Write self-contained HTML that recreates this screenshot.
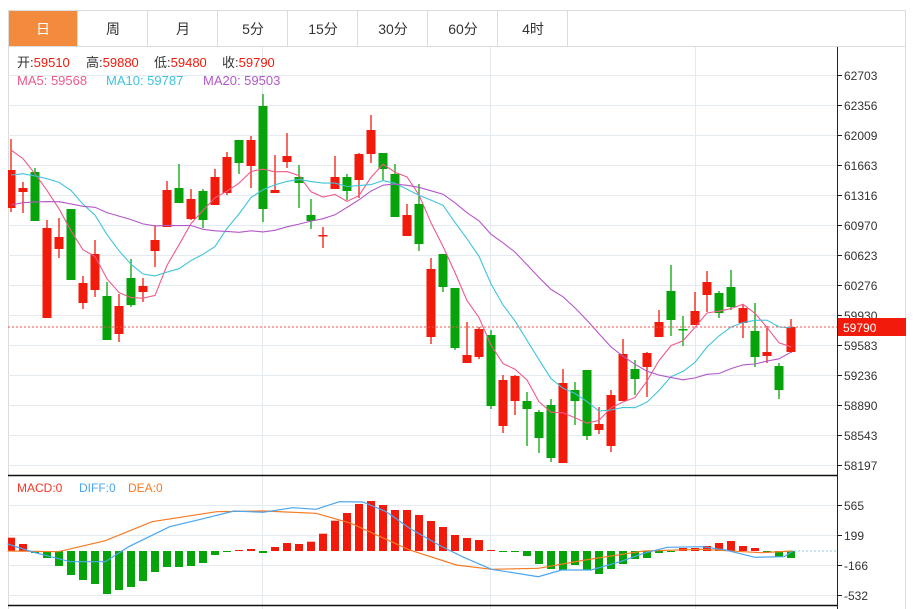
<!DOCTYPE html>
<html><head><meta charset="utf-8">
<style>
body{margin:0;background:#fff;font-family:"Liberation Sans","Noto Sans CJK SC",sans-serif;}
svg{display:block}
</style></head><body>
<svg id="s" width="913" height="609" xmlns="http://www.w3.org/2000/svg" font-family="Liberation Sans, Noto Sans CJK SC, sans-serif">
<rect x="0" y="0" width="913" height="609" fill="#fff"/>
<rect x="8.5" y="10.5" width="897" height="600" fill="none" stroke="#dcdcdc"/>
<line x1="8" y1="46.5" x2="906" y2="46.5" stroke="#dcdcdc"/>
<rect x="9" y="11" width="68" height="35" fill="#f38b3f"/>
<g font-size="14" text-anchor="middle" fill="#333">
<text x="43" y="34" fill="#fff">日</text>
<text x="113" y="34">周</text><text x="183" y="34">月</text><text x="253" y="34">5分</text>
<text x="323" y="34">15分</text><text x="393" y="34">30分</text><text x="463" y="34">60分</text><text x="533" y="34">4时</text>
</g>
<g stroke="#dcdcdc"><line x1="77.5" y1="11" x2="77.5" y2="46"/><line x1="147.5" y1="11" x2="147.5" y2="46"/><line x1="217.5" y1="11" x2="217.5" y2="46"/><line x1="287.5" y1="11" x2="287.5" y2="46"/><line x1="357.5" y1="11" x2="357.5" y2="46"/><line x1="427.5" y1="11" x2="427.5" y2="46"/><line x1="497.5" y1="11" x2="497.5" y2="46"/><line x1="567.5" y1="11" x2="567.5" y2="46"/></g>
<g id="grid" stroke="#e3eaf0"></g>
<line x1="8" y1="75.5" x2="837" y2="75.5" stroke="#e3eaf0"/>
<line x1="8" y1="475.5" x2="837" y2="475.5" stroke="#111" stroke-width="1.5"/>
<line x1="8" y1="605.5" x2="837" y2="605.5" stroke="#111" stroke-width="1.5"/>
<line x1="837.5" y1="47" x2="837.5" y2="609" stroke="#222"/>
<g id="c"></g>
<line x1="8" y1="327" x2="837" y2="327" stroke="#f0504a" stroke-dasharray="2,2"/>
<rect x="838" y="318" width="68" height="18" fill="#f21a0a"/>
<text x="843" y="332" font-size="12" fill="#fff">59790</text>
<g font-size="13">
<text x="17" y="67" fill="#333">开:<tspan fill="#f21a0a">59510</tspan></text>
<text x="86" y="67" fill="#333">高:<tspan fill="#f21a0a">59880</tspan></text>
<text x="154" y="67" fill="#333">低:<tspan fill="#f21a0a">59480</tspan></text>
<text x="222" y="67" fill="#333">收:<tspan fill="#f21a0a">59790</tspan></text>
<text x="17" y="85" fill="#ef5a8c">MA5: 59568</text>
<text x="106" y="85" fill="#3fc3dc">MA10: 59787</text>
<text x="203" y="85" fill="#b458c8">MA20: 59503</text>
</g>
<g font-size="12">
<text x="17" y="492" fill="#f5352a">MACD:0</text>
<text x="79" y="492" fill="#4aa6f0">DIFF:0</text>
<text x="128" y="492" fill="#f57a22">DEA:0</text>
</g>
</svg>
<script>
var s=document.getElementById('c'),g=document.getElementById('grid'),NS='http://www.w3.org/2000/svg';
function el(p,t,a){var e=document.createElementNS(NS,t);for(var k in a)e.setAttribute(k,a[k]);p.appendChild(e);return e;}
var labs=['62703','62356','62009','61663','61316','60970','60623','60276','59930','59583','59236','58890','58543','58197'];
for(var i=0;i<14;i++){var y=75+30*i;el(g,'line',{x1:8,y1:y+.5,x2:837,y2:y+.5});el(s,'line',{x1:837,y1:y+.5,x2:842,y2:y+.5,stroke:'#222'});
var t=el(s,'text',{x:844,y:y+5,'font-size':12,fill:'#333'});t.textContent=labs[i];}
[262,490,695].forEach(function(x){el(g,'line',{x1:x+.5,y1:47,x2:x+.5,y2:609});});
var ml=[[505,'565'],[535,'199'],[565,'-166'],[595,'-532']];
ml.forEach(function(m){el(g,'line',{x1:8,y1:m[0]+.5,x2:837,y2:m[0]+.5});el(s,'line',{x1:837,y1:m[0]+.5,x2:842,y2:m[0]+.5,stroke:'#222'});var t=el(s,'text',{x:844,y:m[0]+5,'font-size':12,fill:'#333'});t.textContent=m[1];});
var C=[['r',139,170,208,212],['r',182,188,192,213],['g',168,172,221,221],['r',220,228,318,318],['r',218,237,249,258],['g',209,209,280,280],['r',276,283,303,309],['r',240,254,290,297],['g',282,296,340,340],['r',294,306,334,342],['g',259,278,305,307],['r',278,286,292,302],['r',225,240,251,267],['r',181,190,227,227],['g',164,188,203,203],['r',189,199,219,220],['g',189,191,220,228],['r',169,177,205,205],['r',152,157,193,195],['g',140,140,163,174],['r',136,140,166,188],['g',94,106,209,222],['r',155,190,193,193],['r',133,156,162,168],['g',165,177,183,208],['g',199,215,221,229],['r',227,235,236,248],['r',156,177,189,189],['g',174,177,191,200],['r',153,154,180,198],['r',115,130,154,163],['g',153,153,169,180],['g',164,174,217,217],['r',204,215,236,236],['g',184,204,244,251],['r',258,269,337,344],['g',254,254,287,292],['g',288,288,348,350],['r',322,355,363,363],['r',327,329,357,359],['g',330,335,406,409],['r',375,380,426,433],['r',375,376,401,415],['g',392,401,409,446],['g',410,412,438,453],['g',399,405,458,462],['r',369,383,463,463],['g',382,390,401,425],['g',370,370,436,440],['r',407,424,430,434],['r',390,395,446,452],['r',339,354,401,401],['g',360,369,379,395],['r',352,353,367,397],['r',310,322,337,337],['g',265,291,320,336],['g',316,329,330,346],['r',292,311,325,325],['r',271,282,295,312],['g',291,293,313,318],['g',270,287,307,310],['r',305,308,323,338],['g',303,331,357,367],['r',326,352,356,363],['g',363,366,390,399],['r',319,327,352,353]];
var RED='#f21a0a',GRN='#07a30a';
var cl=[235,235,235,235,235,235,235,235,235,235,200,200,200,200,200,145,145,145,145];
var P=cl.length;
C.forEach(function(c,i){var x=11+12*i,col=c[0]=='r'?RED:GRN;
el(s,'line',{x1:x,y1:c[1],x2:x,y2:c[4],stroke:col,'stroke-width':1.3});
var x0=Math.max(8,x-4.5);el(s,'rect',{x:x0,y:c[2],width:x+4.5-x0,height:Math.max(1.5,c[3]-c[2]),fill:col});
cl.push(c[0]=='r'?c[2]:c[3]);});
function ma(n,col){var p=[];for(var i=P;i<cl.length;i++){var a=0,k=0;for(var j=i-n+1;j<=i;j++){a+=cl[j];k++;}var x=11+12*(i-P);p.push(Math.max(8,x)+','+(a/k).toFixed(1));}
el(s,'polyline',{points:p.join(' '),fill:'none',stroke:col,'stroke-width':1.1});}
ma(5,'#ef5a8c');ma(10,'#3fc3dc');ma(20,'#b458c8');
var H=[537.7,544,553,558,566,575,580,584,594,590,587,581,572,567,567,566,563,555,552,550,549,553,547,543,544,541.7,533.7,520.7,513,504,501,505,510,510,515,521,527,535,538,540,550,551,551,556,564,569,570,565,570,574,569,564,559,558,553,551,548,548,546,543,541,546,548,551,557,558];
H.forEach(function(h,i){var x=11+12*i;var x0=Math.max(8,x-4),w=x+4-x0;
if(h<551)el(s,'rect',{x:x0,y:h,width:w,height:551-h,fill:RED});else el(s,'rect',{x:x0,y:551,width:w,height:Math.max(1,h-551),fill:GRN});});
el(s,'line',{x1:790,y1:551,x2:836,y2:551,stroke:'#8cc8ee','stroke-dasharray':'2,2'});
function ln(pts,col){el(s,'polyline',{points:pts.map(function(p){return (p[0]/1.709).toFixed(1)+','+(470+p[1]/3).toFixed(1);}).join(' '),fill:'none',stroke:col,'stroke-width':1.2});}
ln([[13,243],[100,245],[180,212],[260,155],[370,125],[450,123],[540,130],[600,160],[700,240],[780,285],[840,298],[920,295],[1000,270],[1100,243],[1200,238],[1300,248],[1355,243]],'#f57a22');
ln([[13,222],[60,248],[120,275],[180,275],[220,230],[290,170],[350,145],[400,123],[450,127],[500,113],[540,118],[580,95],[620,96],[660,125],[700,175],[750,225],[790,260],[840,298],[920,320],[960,300],[1010,300],[1060,275],[1100,250],[1140,232],[1200,230],[1240,240],[1290,262],[1340,260],[1355,243]],'#4aa6f0');
</script>
</body></html>
